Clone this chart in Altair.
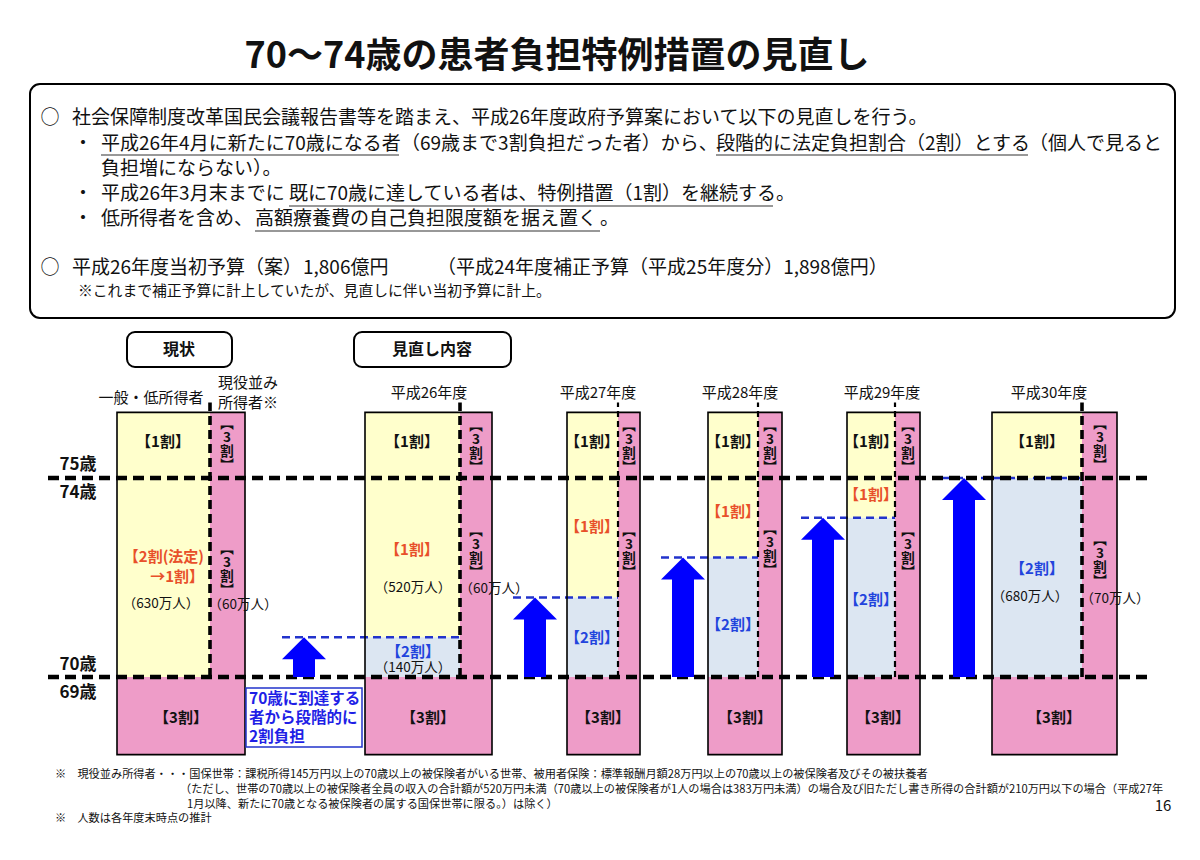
import altair as alt
import pandas as pd

FONT = "Noto Sans CJK JP"

# ------------------------------------------------------------------ values
TITLE = "70～74歳の患者負担特例措置の見直し"
AGE_LINES = [70, 75]                       # boundaries drawn as dashed lines
AGE_LABELS = ["75歳", "74歳", "70歳", "69歳"]
YEARS = ["平成26年度", "平成27年度", "平成28年度", "平成29年度", "平成30年度"]
LEVELS = [71, 72, 73, 74, 75]              # upper age of the 2割 band, per year
POP_CURRENT = [630, 60]                    # 万人: 一般・低所得者 / 現役並み
POP_H26 = [520, 140, 60]                   # 万人: 1割 / 2割 / 現役並み
POP_H30 = [680, 70]                        # 万人: 2割 / 現役並み

BOX_LINES = [
    "社会保障制度改革国民会議報告書等を踏まえ、平成26年度政府予算案において以下の見直しを行う。",
    "平成26年4月に新たに70歳になる者", "（69歳まで3割負担だった者）から、",
    "段階的に法定負担割合（2割）とする", "（個人で見ると",
    "負担増にならない）。",
    "平成26年3月末までに", "既に70歳に達している者は、特例措置（1割）を継続する", "。",
    "低所得者を含め、", "高額療養費の自己負担限度額を据え置く", "。",
    "平成26年度当初予算（案）", "1,806億円", "（平成24年度補正予算（平成25年度分）1,898億円）",
]
BOX_NOTE = "※これまで補正予算に計上していたが、見直しに伴い当初予算に計上。"
NOTE_LINES = ["70歳に到達する", "者から段階的に", "2割負担"]
FOOTNOTES = [
    "※　現役並み所得者・・・国保世帯：課税所得145万円以上の70歳以上の被保険者がいる世帯、被用者保険：標準報酬月額28万円以上の70歳以上の被保険者及びその被扶養者",
    "（ただし、世帯の70歳以上の被保険者全員の収入の合計額が520万円未満（70歳以上の被保険者が1人の場合は383万円未満）の場合及び旧ただし書き所得の合計額が210万円以下の場合（平成27年",
    "1月以降、新たに70歳となる被保険者の属する国保世帯に限る。）は除く）",
    "※　人数は各年度末時点の推計",
]

# ------------------------------------------------------------------ layout
COL_LEFT = [117, 365, 567, 708, 847, 992]
COL_SPLIT = [210, 460, 618, 758, 895, 1082]
COL_RIGHT = [245, 492, 640, 782, 920, 1117]
COL_THICK = [True, True, False, False, False, True]
ARROW_X = [304, 535, 683, 823, 964]
AGE_TOP, AGE_BOTTOM, AGE_DASH_TOP = 76.65, 68.05, 76.9

YELLOW, PINK, LIGHTBLUE = "#FFFFCC", "#EE9CC8", "#DCE6F2"
BLUE, DASH_BLUE = "#0000FF", "#2233CC"
RED, TXT_BLUE, NOTE_BLUE, INK = "#E8502A", "#2244DD", "#1F1FE6", "#111111"

X_PX = alt.Scale(domain=[8, 1192], nice=False, zero=False)
Y_PX = alt.Scale(domain=[8, 852], reverse=True, nice=False, zero=False)
Y_AGE = alt.Scale(domain=[70, 75], range=[669, 470], nice=False, zero=False)


def ax(field="x"):
    return alt.X(f"{field}:Q", scale=X_PX, axis=None)


def ay(field="y", scale=Y_AGE):
    return alt.Y(f"{field}:Q", scale=scale, axis=None)


# ------------------------------------------------------------------ diagram (age scale)
rect_rows, outline_rows = [], []
for i in range(6):
    L, S, R = COL_LEFT[i], COL_SPLIT[i], COL_RIGHT[i]
    rect_rows.append(dict(x=L, x2=S, y=75, y2=AGE_TOP, fill=YELLOW))
    if i == 0:
        rect_rows.append(dict(x=L, x2=S, y=70, y2=75, fill=YELLOW))
    else:
        lv = LEVELS[i - 1]
        if lv < 75:
            rect_rows.append(dict(x=L, x2=S, y=lv, y2=75, fill=YELLOW))
        rect_rows.append(dict(x=L, x2=S, y=70, y2=lv, fill=LIGHTBLUE))
    rect_rows.append(dict(x=S, x2=R, y=70, y2=AGE_TOP, fill=PINK))
    rect_rows.append(dict(x=L, x2=R, y=AGE_BOTTOM, y2=70, fill=PINK))
    outline_rows.append(dict(x=L, x2=R, y=AGE_BOTTOM, y2=AGE_TOP))

fills = alt.Chart(pd.DataFrame(rect_rows)).mark_rect().encode(
    x=ax(), x2="x2:Q", y=ay(), y2="y2:Q", color=alt.Color("fill:N", scale=None))

outlines = alt.Chart(pd.DataFrame(outline_rows)).mark_rect(
    fillOpacity=0, stroke="black", strokeWidth=1.6).encode(
    x=ax(), x2="x2:Q", y=ay(), y2="y2:Q")

level_df = pd.DataFrame(dict(x=[a - 22 for a in ARROW_X], x2=COL_SPLIT[1:], y=LEVELS))
level_lines = alt.Chart(level_df).mark_rule(
    color=DASH_BLUE, strokeWidth=2.5, strokeDash=[8, 5]).encode(x=ax(), x2="x2:Q", y=ay())

vthick = pd.DataFrame(dict(x=[s for s, t in zip(COL_SPLIT, COL_THICK) if t]))
vthin = pd.DataFrame(dict(x=[s for s, t in zip(COL_SPLIT, COL_THICK) if not t]))
for d in (vthick, vthin):
    d["y"] = 70
    d["y2"] = AGE_DASH_TOP
v_thick = alt.Chart(vthick).mark_rule(color="black", strokeWidth=3.6, strokeDash=[9, 5]).encode(
    x=ax(), y=ay(), y2="y2:Q")
v_thin = alt.Chart(vthin).mark_rule(color="black", strokeWidth=2.2, strokeDash=[6, 4]).encode(
    x=ax(), y=ay(), y2="y2:Q")

hline_df = pd.DataFrame(dict(x=[48, 48], x2=[1150, 1150], y=AGE_LINES))
hlines = alt.Chart(hline_df).mark_rule(color="black", strokeWidth=4.5, strokeDash=[11, 6]).encode(
    x=ax(), x2="x2:Q", y=ay())

shaft_df = pd.DataFrame(dict(x=[a - 11 for a in ARROW_X], x2=[a + 11 for a in ARROW_X],
                             y=[70] * 5, y2=[lv - 0.5 for lv in LEVELS]))
shafts = alt.Chart(shaft_df).mark_rect(color=BLUE).encode(x=ax(), x2="x2:Q", y=ay(), y2="y2:Q")
head_df = pd.DataFrame(dict(x=ARROW_X, y=LEVELS))
heads = alt.Chart(head_df).mark_point(
    shape="M-1,1L0,0L1,1Z", filled=True, size=1936, color=BLUE, opacity=1, strokeWidth=0).encode(
    x=ax(), y=ay())

diagram = alt.layer(fills, level_lines, outlines, v_thick, v_thin, hlines, shafts, heads)

# ------------------------------------------------------------------ overlay (pixel scale)
def boxes(rows, **kw):
    return alt.Chart(pd.DataFrame(rows, columns=["x", "x2", "y", "y2"])).mark_rect(**kw).encode(
        x=ax(), x2="x2:Q", y=ay(scale=Y_PX), y2="y2:Q")


info_box = boxes([(30, 1175, 84, 318)], fill="white", stroke="black", strokeWidth=2, cornerRadius=10)
sect_box = boxes([(127, 232, 332, 367), (354, 511, 332, 367)], fill="white", stroke="black",
                 strokeWidth=2, cornerRadius=8)
note_box = boxes([(246, 362, 688, 747)], fill="white", stroke=DASH_BLUE, strokeWidth=1.5)

ul_df = pd.DataFrame(dict(x=[101, 716, 289, 255], x2=[399, 1028, 773, 600], y=[155, 155, 206, 231]))
underlines = alt.Chart(ul_df).mark_rule(color="#333333", strokeWidth=1.2).encode(
    x=ax(), x2="x2:Q", y=ay(scale=Y_PX))


def texts(rows, weight="normal", align="center", **kw):
    df = pd.DataFrame(rows, columns=["x", "y", "text", "size", "color"])
    return alt.Chart(df).mark_text(font=FONT, fontWeight=weight, align=align, baseline="middle", **kw).encode(
        x=ax(), y=ay(scale=Y_PX), text="text:N",
        size=alt.Size("size:Q", scale=None, legend=None),
        color=alt.Color("color:N", scale=None))


# box text segments
seg_x = [72, 101, 401, 716, 1029, 101, 101, 289, 776, 101, 255, 600, 72, 303, 437]
seg_y = [118, 143.5, 143.5, 143.5, 143.5, 169, 194, 194, 194, 219, 219, 219, 268, 268, 268]
left_rows = [(x, y, t, 19, INK) for x, y, t in zip(seg_x, seg_y, BOX_LINES)]
left_rows.append((78, 292, BOX_NOTE, 14.8, INK))
left_rows += [(218, 383, "現役並み", 15, INK), (218, 403, "所得者※", 15, INK)]
foot_x, foot_y = [55, 180, 187, 55], [775, 790, 805, 819]
left_rows += [(x, y, t, 11.2, INK) for x, y, t in zip(foot_x, foot_y, FOOTNOTES)]
t_left = texts(left_rows, align="left")

center_rows = [(50, 118, "○", 19, INK), (50, 268, "○", 19, INK),
               (83, 143.5, "・", 19, INK), (83, 194, "・", 19, INK), (83, 219, "・", 19, INK),
               (151, 398, "一般・低所得者", 15, INK), (1163, 806, "16", 15, INK)]
center_rows += [(x, 393, t, 15, INK) for x, t in zip([429, 598, 740, 882, 1049], YEARS)]
pop_rows = [(161, 604, POP_CURRENT[0]), (243, 605, POP_CURRENT[1]),
            (413, 588, POP_H26[0]), (413, 668, POP_H26[1]), (494, 589, POP_H26[2]),
            (1030, 597, POP_H30[0]), (1115, 599, POP_H30[1])]
center_rows += [(x, y, f"（{v}万人）", 13.5, INK) for x, y, v in pop_rows]
t_center = texts(center_rows)

bold_rows = [(557, 57, TITLE, 36, INK)]
bold_rows += [(179, 350, "現状", 16, INK), (432, 350, "見直し内容", 16, INK)]
bold_rows += [(78, y, t, 17, INK) for y, t in zip([465, 493, 665, 693], AGE_LABELS)]
bold_rows += [(x, 442, "【1割】", 15, INK) for x in [163, 412, 592, 733, 871, 1037]]
bold_rows += [(x, 718, "【3割】", 15, INK) for x in [181, 428, 603, 745, 883, 1054]]
bold_rows += [(x, y, "【1割】", 15, RED) for x, y in [(412, 550), (592, 527), (733, 512), (871, 495)]]
bold_rows += [(x, y, "【2割】", 15, TXT_BLUE)
              for x, y in [(413, 652), (592, 638), (733, 625), (871, 600), (1037, 569)]]
t_bold = texts(bold_rows, weight="bold")

t_bold_right = texts([(204, 557, "【2割(法定)", 15, RED), (204, 577, "→1割】", 15, RED)],
                     weight="bold", align="right")
t_note = texts([(249, y, t, 15.5, NOTE_BLUE) for y, t in zip([699, 718, 737], NOTE_LINES)],
               weight="bold", align="left")

# vertical 【3割】 labels in the narrow pink columns (first line position = centre - 1.5 lines)
VLH = 14
vert_x = [227, 476, 629, 770, 908, 1100]
vert_top = [445, 447, 447, 447, 447, 445]
vert_mid = [570, 552, 552, 550, 552, 561]
vert_rows = [(x, y - 1.5 * VLH, "︻\n3\n割\n︼", 13.5, INK) for x, y in zip(vert_x, vert_top)]
vert_rows += [(x, y - 1.5 * VLH, "︻\n3\n割\n︼", 13.5, INK) for x, y in zip(vert_x, vert_mid)]
t_vert = texts(vert_rows, weight="bold", lineBreak="\n", lineHeight=VLH)

overlay = alt.layer(info_box, sect_box, note_box, underlines,
                    t_left, t_center, t_bold, t_bold_right, t_note, t_vert)

chart = (
    alt.layer(diagram, overlay)
    .resolve_scale(y="independent")
    .properties(width=1184, height=844, padding=0, background="white",
                autosize=alt.AutoSizeParams(type="none"))
    .configure_view(strokeWidth=0)
)

chart.save("out.html", embed_options={"renderer": "svg", "actions": False})
